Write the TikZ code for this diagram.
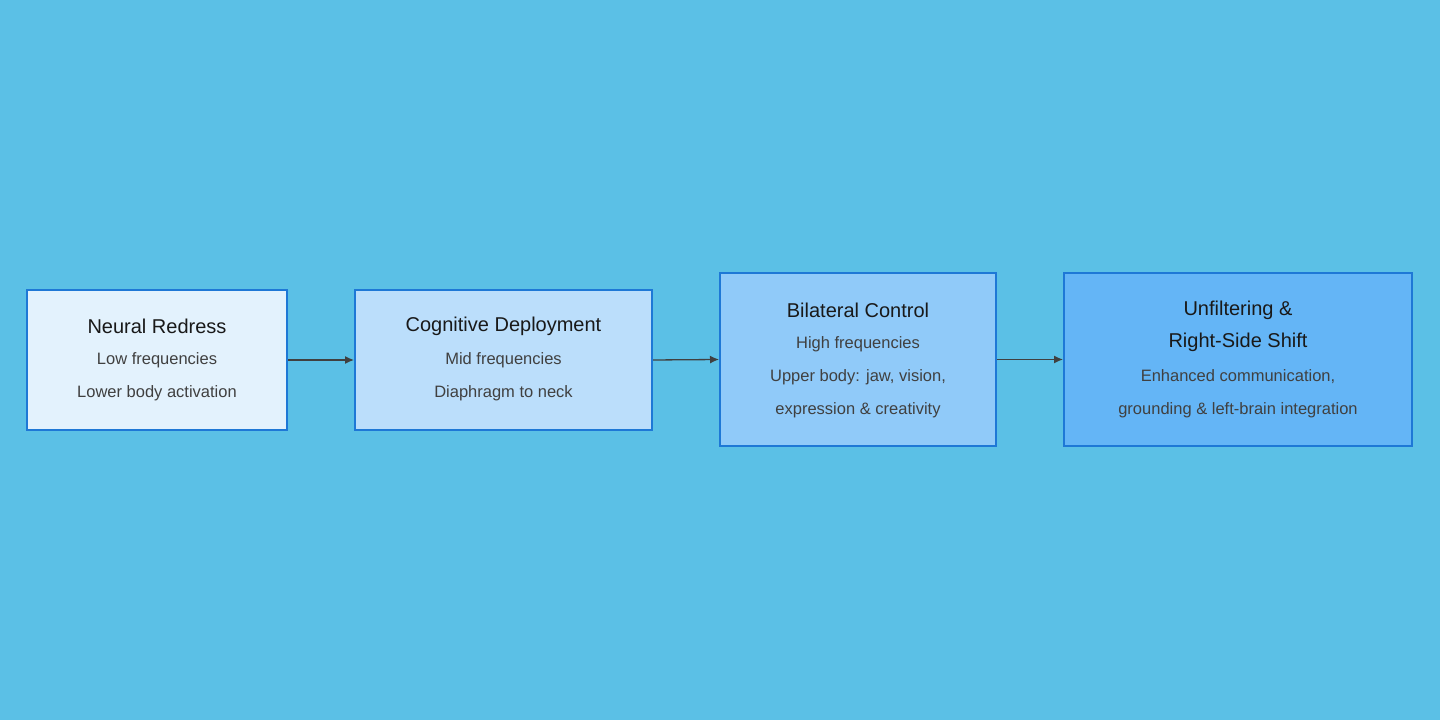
\documentclass[tikz,border=0pt]{standalone}
\usepackage{fontspec}
\setmainfont{Liberation Sans}
\definecolor{bg}{HTML}{5BC0E6}
\definecolor{bd}{HTML}{1E78D6}
\definecolor{fa}{HTML}{E3F2FD}
\definecolor{fb}{HTML}{BBDEFB}
\definecolor{fc}{HTML}{90CAF9}
\definecolor{fd}{HTML}{64B5F6}
\begin{document}
\begin{tikzpicture}[x=1pt,y=1pt,
 box/.style={draw=bd,line width=2pt,inner sep=0pt},
 ttl/.style={font=\fontsize{20}{24}\selectfont,text=black!90},
 sub/.style={font=\fontsize{16.5}{20}\selectfont,text=black!75},
 arr/.style={draw=black!75,line width=1.3pt,-{Latex[length=9pt,width=8pt]}}]
\usetikzlibrary{arrows.meta}
\fill[bg] (0,0) rectangle (1440,720);
\useasboundingbox (0,0) rectangle (1440,720);
\node[box,fill=fa,minimum width=260,minimum height=140] (b1) at (157,360) {};
\node[box,fill=fb,minimum width=297,minimum height=140] (b2) at (503.5,360) {};
\node[box,fill=fc,minimum width=276,minimum height=173] (b3) at (858,360.5) {};
\node[box,fill=fd,minimum width=348,minimum height=173] (b4) at (1238,360.5) {};
\node[ttl] (t1) at (157,394) {Neural Redress};
\node[sub] (s1a) at (157,360) {Low frequencies};
\node[sub] (s1b) at (157,327) {Lower body activation};
\node[ttl] (t2) at (503.5,394) {Cognitive Deployment};
\node[sub] (s2a) at (503.5,360) {Mid frequencies};
\node[sub] (s2b) at (503.5,327) {Diaphragm to neck};
\node[ttl] (t3) at (858,410) {Bilateral Control};
\node[sub] (s3a) at (858,376) {High frequencies};
\node[sub] (s3b) at (858,343) {Upper body: jaw, vision,};
\node[sub] (s3c) at (858,310) {expression \& creativity};
\node[ttl] (t4a) at (1238,410) {Unfiltering \&};
\node[ttl] (t4b) at (1238,378) {Right-Side Shift};
\node[sub] (s4a) at (1238,343) {Enhanced communication,};
\node[sub] (s4b) at (1238,310) {grounding \& left-brain integration};
\draw[arr] (b1.east) -- (b2.west);
\draw[arr] (b2.east) -- (b3.west);
\draw[arr] (b3.east) -- (b4.west);
\end{tikzpicture}
\end{document}
